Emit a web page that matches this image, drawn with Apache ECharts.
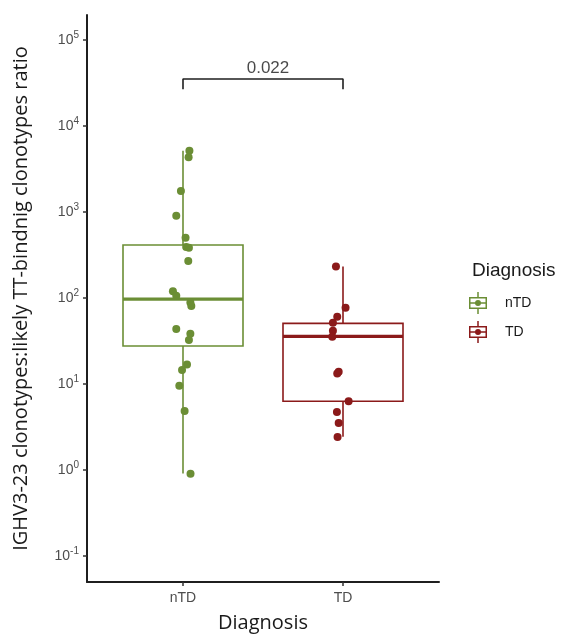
<!DOCTYPE html>
<html>
<head>
<meta charset="utf-8">
<script src="https://cdn.jsdelivr.net/npm/echarts@6/dist/echarts.min.js"></script>
<style>html,body{margin:0;padding:0;background:#fff}#c{width:562px;height:639px}</style>
</head>
<body>
<div id="c"></div>
<script>
// ---- data ----
const categories = ['nTD', 'TD'];
const groupColors = ['#6B8E35', '#8B1A1A'];
const nTDValues = [5160, 4330, 1750, 906, 502, 392, 385, 269, 120, 106, 89, 81, 43.6, 38.5, 32.5, 16.9, 14.6, 9.55, 4.86, 0.906];
const nTDJitter = [0.04, 0.035, -0.013, -0.042, 0.016, 0.02, 0.037, 0.033, -0.063, -0.042, 0.046, 0.052, -0.042, 0.046, 0.037, 0.025, -0.006, -0.023, 0.01, 0.047];
const TDValues = [233, 77, 60.6, 51.7, 41.7, 35.5, 13.9, 13.3, 6.3, 4.72, 3.52, 2.42];
const TDJitter = [-0.044, 0.016, -0.036, -0.063, -0.063, -0.067, -0.027, -0.036, 0.035, -0.038, -0.027, -0.034];
// box stats: [lower whisker, Q1, median, Q3, upper whisker]
const nTDBox = [0.91, 27.7, 97.3, 413, 5160];
const TDBox = [2.44, 6.3, 35.9, 50.8, 233];
const pValueLabel = '0.022';
const bracketY = [26700, 35200];
const yTickValues = [0.1, 1, 10, 100, 1000, 10000, 100000];
const xTickValues = [1, 2];

// ---- styles ----
const BOX_WIDTH = 0.75;
const axisColor = '#1f1f1f';
const tickLabelColor = '#4d4d4d';

const groups = [
  { name: categories[0], pos: 1, values: nTDValues, jitter: nTDJitter, box: nTDBox, color: groupColors[0] },
  { name: categories[1], pos: 2, values: TDValues, jitter: TDJitter, box: TDBox, color: groupColors[1] }
];

function renderBox(color) {
  return function (params, api) {
    const x = api.value(0);
    const lo = api.value(1), q1 = api.value(2), med = api.value(3), q3 = api.value(4), hi = api.value(5);
    const hw = BOX_WIDTH / 2;
    const tl = api.coord([x - hw, q3]);
    const br = api.coord([x + hw, q1]);
    const cTop = api.coord([x, hi]);
    const cQ3 = api.coord([x, q3]);
    const cQ1 = api.coord([x, q1]);
    const cLo = api.coord([x, lo]);
    const mL = api.coord([x - hw, med]);
    const mR = api.coord([x + hw, med]);
    const lineStyle = { stroke: color, lineWidth: 1.6, fill: null };
    return {
      type: 'group',
      children: [
        { type: 'line', shape: { x1: cTop[0], y1: cTop[1], x2: cQ3[0], y2: cQ3[1] }, style: lineStyle },
        { type: 'line', shape: { x1: cQ1[0], y1: cQ1[1], x2: cLo[0], y2: cLo[1] }, style: lineStyle },
        { type: 'rect', shape: { x: tl[0], y: tl[1], width: br[0] - tl[0], height: br[1] - tl[1] }, style: { stroke: color, lineWidth: 1.6, fill: '#fff' } },
        { type: 'line', shape: { x1: mL[0], y1: mL[1], x2: mR[0], y2: mR[1] }, style: { stroke: color, lineWidth: 3.2 } }
      ]
    };
  };
}

const legendIcon = 'path://M0,5 L18,5 L18,17 L0,17 Z M1.5,6.5 L1.5,15.5 L16.5,15.5 L16.5,6.5 Z ' +
  'M8.25,0 L9.75,0 L9.75,5 L8.25,5 Z M8.25,17 L9.75,17 L9.75,22 L8.25,22 Z ' +
  'M1.5,10.25 L16.5,10.25 L16.5,11.75 L1.5,11.75 Z ' +
  'M6,11 A3,3 0 1,1 12,11 A3,3 0 1,1 6,11 Z';

const series = [];
groups.forEach(g => {
  series.push({
    name: g.name,
    type: 'custom',
    renderItem: renderBox(g.color),
    itemStyle: { color: g.color },
    data: [[g.pos].concat(g.box)],
    encode: { x: 0, y: [1, 2, 3, 4, 5] },
    z: 2,
    silent: true
  });
});
groups.forEach(g => {
  series.push({
    name: g.name,
    type: 'scatter',
    symbol: 'circle',
    symbolSize: 8,
    itemStyle: { color: g.color, opacity: 1 },
    data: g.values.map((v, i) => [g.pos + g.jitter[i], v]),
    z: 5
  });
});
// significance bracket
series.push({
  type: 'line',
  symbol: 'none',
  lineStyle: { color: axisColor, width: 1.6 },
  data: [[xTickValues[0], bracketY[0]], [xTickValues[0], bracketY[1]], [xTickValues[1], bracketY[1]], [xTickValues[1], bracketY[0]]],
  silent: true,
  z: 3
});
series.push({
  type: 'scatter',
  symbolSize: 0,
  data: [[(xTickValues[0] + xTickValues[1]) / 2, bracketY[1]]],
  label: {
    show: true, position: 'top', distance: 2, offset: [5, 0],
    formatter: pValueLabel, color: '#1a1a1a', fontSize: 17, fontFamily: 'Liberation Sans'
  },
  silent: true,
  z: 3
});

const chart = echarts.init(document.getElementById('c'), null, { renderer: 'canvas' });
chart.setOption({
  backgroundColor: '#ffffff',
  animation: false,
  title: {
    text: 'Diagnosis', left: 467, top: 256,
    textStyle: { fontFamily: 'Liberation Sans', fontSize: 19, fontWeight: 'normal', color: '#1a1a1a' }
  },
  legend: {
    orient: 'vertical', left: 464, top: 287,
    itemWidth: 44, itemHeight: 22, itemGap: 7,
    data: categories.map(n => ({ name: n, icon: legendIcon })),
    textStyle: { fontFamily: 'Liberation Sans', fontSize: 14, color: '#1a1a1a' },
    selectedMode: false
  },
  grid: { left: 87, right: 123, top: 15, bottom: 57, containLabel: false },
  xAxis: {
    type: 'value', min: 0.4, max: 2.6,
    name: 'Diagnosis', nameLocation: 'middle', nameGap: 31,
    nameTextStyle: { fontFamily: 'Open Sans', fontSize: 20, color: '#1a1a1a' },
    splitLine: { show: false },
    axisLine: { show: true, onZero: false, lineStyle: { color: axisColor, width: 2 } },
    axisTick: { show: true, customValues: xTickValues, length: 4, lineStyle: { color: '#333', width: 1.5 } },
    axisLabel: {
      customValues: xTickValues, margin: 9,
      formatter: v => categories[Math.round(v) - 1],
      fontFamily: 'Liberation Sans', fontSize: 14, color: tickLabelColor
    }
  },
  yAxis: {
    type: 'log', logBase: 10, min: 0.05, max: 195000,
    name: 'IGHV3-23 clonotypes:likely TT-bindnig clonotypes ratio',
    nameLocation: 'middle', nameGap: 56,
    nameTextStyle: { fontFamily: 'Open Sans', fontSize: 20, color: '#1a1a1a' },
    splitLine: { show: false },
    axisLine: { show: true, lineStyle: { color: axisColor, width: 2 } },
    axisTick: { show: true, customValues: yTickValues, length: 4, lineStyle: { color: '#333', width: 1.5 } },
    axisLabel: {
      customValues: yTickValues, margin: 8,
      formatter: v => '{b|10}{e|' + Math.round(Math.log10(v)) + '}',
      rich: {
        b: { fontFamily: 'Liberation Sans', fontSize: 14, color: tickLabelColor },
        e: { fontFamily: 'Liberation Sans', fontSize: 10, color: tickLabelColor, padding: [0, 0, 9, 0] }
      }
    }
  },
  series: series
});
</script>
</body>
</html>
